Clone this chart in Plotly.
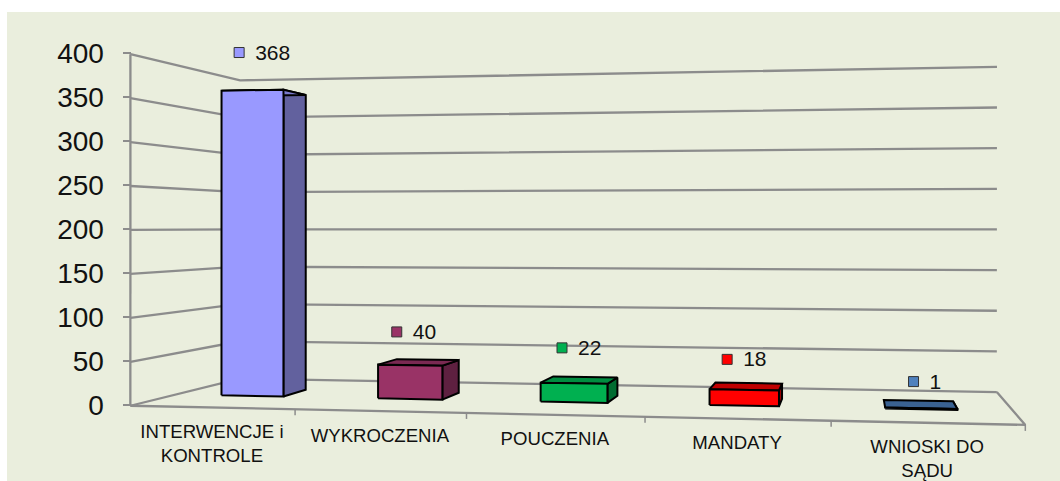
import numpy as np
import plotly.graph_objects as go

categories = ["INTERWENCJE i<br>KONTROLE", "WYKROCZENIA", "POUCZENIA", "MANDATY", "WNIOSKI DO<br>SĄDU"]
values = [368, 40, 22, 18, 1]
tick_values = [0, 50, 100, 150, 200, 250, 300, 350, 400]
front_colors = ["#9999FF", "#993366", "#00B050", "#FF0000", "#4F81BD"]
side_colors = ["#62619E", "#5E2040", "#006C31", "#990000", "#3A6292"]
top_colors = ["#7A7ACC", "#7A2952", "#008D40", "#C00000", "#3A6292"]
key_colors = ["#9999FF", "#993366", "#00B050", "#FF0000", "#4F81BD"]

W, H = 1060, 481
Y0, PXU = 405.3, 0.88   # value axis: pixel of 0, pixels per unit


def to_axis(py):
    return (Y0 - np.asarray(py, float)) / PXU


# camera calibrated on the plot box: (category pos, value, depth) -> picture position
calib = [
    ((0, 0, 0), (130.5, 405)), ((1, 0, 0), (295, 410)), ((2, 0, 0), (466.7, 414)),
    ((3, 0, 0), (645, 417.5)), ((4, 0, 0), (831, 421)), ((5, 0, 0), (1025, 424)),
    ((0, 200, 0), (130.5, 229.5)), ((0, 400, 0), (130.5, 53.5)),
    ((0, 0, 1), (240, 378)), ((0, 200, 1), (240, 229.5)), ((0, 400, 1), (240, 81)),
    ((5, 0, 1), (997, 392)), ((5, 200, 1), (997, 229)), ((5, 400, 1), (997, 67)),
]
A, b = [], []
for (X, Y, Z), (u, v) in calib:
    A.append([X, Y, Z, 1, 0, 0, 0, 0, -u * X, -u * Y, -u * Z]); b.append(u)
    A.append([0, 0, 0, 0, X, Y, Z, 1, -v * X, -v * Y, -v * Z]); b.append(v)
sol = np.linalg.lstsq(np.array(A, float), np.array(b, float), rcond=None)[0]
P = np.append(sol, 1).reshape(3, 4)


def proj(x, v, z):
    q = P @ np.array([x, v, z, 1.0])
    return q[0] / q[2], q[1] / q[2]


fig = go.Figure()


def line(pts, width=2.3, color="#8C8C8C"):
    xs = [p[0] if p else None for p in pts]
    ys = [float(to_axis(p[1])) if p else None for p in pts]
    fig.add_trace(go.Scatter(x=xs, y=ys, mode="lines", line=dict(color=color, width=width),
                             hoverinfo="skip", showlegend=False))


def face(pts, fill):
    pts = list(pts) + [pts[0]]
    fig.add_trace(go.Scatter(x=[p[0] for p in pts], y=[float(to_axis(p[1])) for p in pts],
                             mode="lines", fill="toself", fillcolor=fill,
                             line=dict(color="#000000", width=2), hoverinfo="skip", showlegend=False))


# gridlines
for t in tick_values:
    line([proj(0, t, 0), proj(0, t, 1), proj(5, t, 1)])
# floor outline + right edge + vertical axis
line([proj(0, 0, 0), proj(5, 0, 0), proj(5, 0, 1)])
line([proj(0, 0, 0), proj(0, 400, 0)])
# floor ticks
pts = []
for i in range(1, 6):
    x, y = proj(i, 0, 0)
    pts += [(x, y), (x, y + 6), None]
line(pts, width=1.5)

# bars
A0, A1, Z0, Z1 = 0.295, 0.695, 0.38, 0.62
for i, val in enumerate(values):
    fbl, fbr = proj(i + A0, 0, Z0), proj(i + A1, 0, Z0)
    ftl, ftr = proj(i + A0, val, Z0), proj(i + A1, val, Z0)
    bbr = proj(i + A1, 0, Z1)
    btl, btr = proj(i + A0, val, Z1), proj(i + A1, val, Z1)
    face([fbr, ftr, btr, bbr], side_colors[i])
    face([ftl, ftr, btr, btl], top_colors[i])
    face([fbl, fbr, ftr, ftl], front_colors[i])

# value labels with keys
label_lift = [54, 34, 35, 28, 22]
label_dx = [-30, -24, -16, -14, 3]
for i, val in enumerate(values):
    x, y = proj(i + 0.45, val + label_lift[i], Z1)
    x += label_dx[i]
    ya = float(to_axis(y))
    fig.add_trace(go.Scatter(x=[x], y=[ya], mode="markers",
                             marker=dict(symbol="square", size=10, color=key_colors[i],
                                         line=dict(color="#333333", width=1)),
                             hoverinfo="skip", showlegend=False))
    fig.add_trace(go.Scatter(x=[x + 16], y=[ya - 2], mode="text", text=[str(val)],
                             textposition="middle right",
                             textfont=dict(family="Liberation Sans", size=21, color="#111111"),
                             hoverinfo="skip", showlegend=False))

# category labels
for i, c in enumerate(categories):
    x, y = proj(i + 0.5, 0, 0)
    fig.add_trace(go.Scatter(x=[x], y=[float(to_axis(y + 16.5))], mode="text", text=[c],
                             textposition="bottom center",
                             textfont=dict(family="Liberation Sans", size=18.6, color="#111111"),
                             hoverinfo="skip", showlegend=False))

fig.update_layout(
    width=W, height=H, margin=dict(l=0, r=0, t=0, b=0),
    paper_bgcolor="#FFFFFF", plot_bgcolor="rgba(0,0,0,0)", showlegend=False,
    shapes=[dict(type="rect", xref="paper", yref="paper", x0=7 / W, x1=1, y0=0, y1=1 - 12 / H,
                 fillcolor="#EAEEDD", line_width=0, layer="below")],
    xaxis=dict(range=[0, W], domain=[0, 1], visible=False),
    yaxis=dict(range=[float(to_axis(H)), float(to_axis(0))], domain=[0, 1], anchor="free",
               position=130.5 / W, tickmode="array", tickvals=tick_values, ticks="outside", ticklen=8,
               tickwidth=1.5, tickcolor="#8C8C8C", ticklabelstandoff=13, showgrid=False, zeroline=False,
               showline=False, tickfont=dict(family="Liberation Sans", size=28, color="#111111")),
)
fig.write_html("out.html", config=dict(displayModeBar=False),
               post_script="document.body.style.margin='0';document.documentElement.style.overflow='hidden';")
